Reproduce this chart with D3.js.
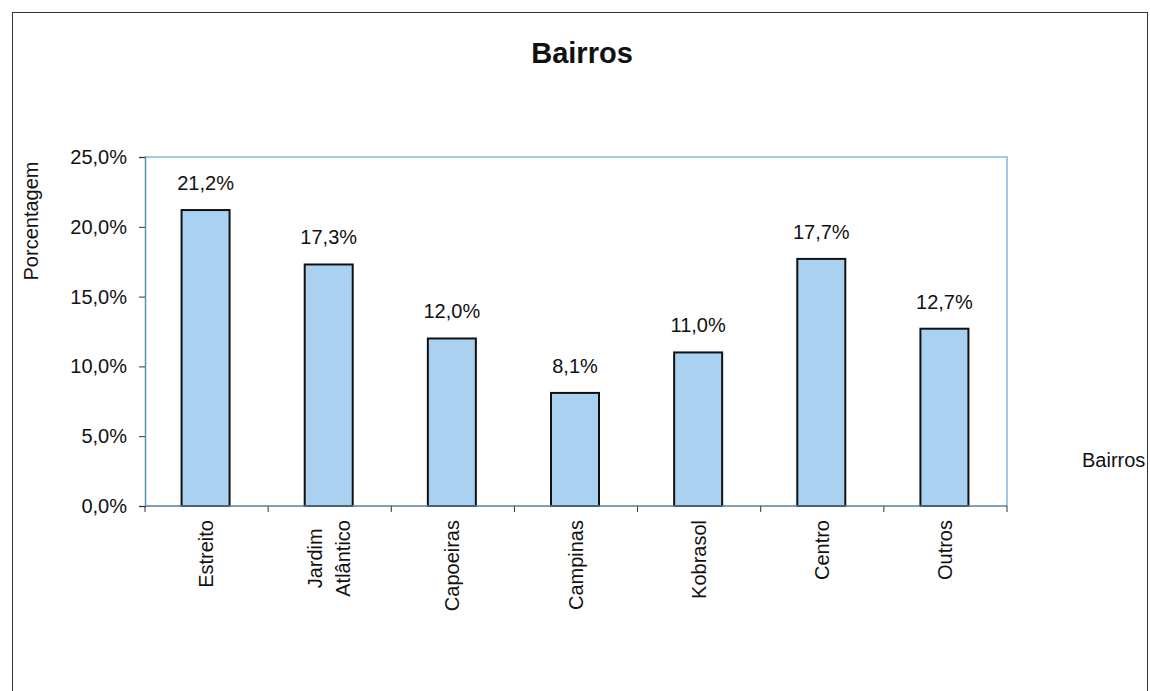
<!DOCTYPE html>
<html>
<head>
<meta charset="utf-8">
<script src="https://cdn.jsdelivr.net/npm/d3@7"></script>
<style>
  html, body { margin: 0; padding: 0; background: #fff; }
  text { font-family: "Liberation Sans", Arial, sans-serif; fill: #111; }
</style>
</head>
<body>
<svg id="chart" width="1150" height="691"></svg>
<script>
// Share of respondents by neighbourhood
const categories = ["Estreito", "Jardim Atlântico", "Capoeiras", "Campinas", "Kobrasol", "Centro", "Outros"];
const values = [21.2, 17.3, 12.0, 8.1, 11.0, 17.7, 12.7];
const yTicks = [0, 5, 10, 15, 20, 25];

const svg = d3.select("#chart");
const plot = { left: 145, right: 1007, top: 157, bottom: 506 };
const FS = 20;

const fmt = v => d3.format(".1f")(v).replace(".", ",") + "%";

// outer frame
svg.append("rect")
  .attr("x", 12.5).attr("y", 12.5)
  .attr("width", 1135).attr("height", 700)
  .attr("fill", "#fff").attr("stroke", "#333").attr("stroke-width", 1);

const x = d3.scaleBand().domain(categories).range([plot.left, plot.right]).paddingInner(0).paddingOuter(0);
const y = d3.scaleLinear().domain([0, 25]).range([plot.bottom, plot.top]);

// plot area frame (top and right)
svg.append("path")
  .attr("d", `M${plot.left},${plot.top}H${plot.right}V${plot.bottom}`)
  .attr("fill", "none").attr("stroke", "#86b8dc").attr("stroke-width", 1.5);

// bars
const barW = 48;
svg.append("g").selectAll("rect").data(values).join("rect")
  .attr("x", (d, i) => x(categories[i]) + x.bandwidth() / 2 - barW / 2 - 1)
  .attr("y", d => y(d))
  .attr("width", barW)
  .attr("height", d => y(0) - y(d))
  .attr("fill", "#abd1f1")
  .attr("stroke", "#111")
  .attr("stroke-width", 2);

// value labels
svg.append("g").selectAll("text").data(values).join("text")
  .attr("x", (d, i) => x(categories[i]) + x.bandwidth() / 2 - 1)
  .attr("y", d => y(d) - 20)
  .attr("text-anchor", "middle")
  .attr("font-size", FS)
  .text(d => fmt(d));

// y axis
const yAxis = svg.append("g")
  .attr("transform", `translate(${plot.left},0)`)
  .call(d3.axisLeft(y).tickValues(yTicks).tickSize(6).tickFormat(fmt));
yAxis.select(".domain").attr("stroke", "#5a8fb8").attr("stroke-width", 1.5);
yAxis.selectAll(".tick line").attr("stroke", "#333");
yAxis.selectAll(".tick text").attr("font-size", FS).attr("x", -18)
  .style("font-family", '"Liberation Sans", Arial, sans-serif').attr("fill", "#111");

// x axis with ticks at band boundaries
const xAxis = svg.append("g").attr("transform", `translate(0,${plot.bottom})`);
xAxis.append("line")
  .attr("x1", plot.left).attr("x2", plot.right)
  .attr("stroke", "#5a7f9a").attr("stroke-width", 1.5);
const bounds = categories.map(c => x(c)).concat([x(categories[categories.length - 1]) + x.bandwidth()]);
xAxis.selectAll("line.tk").data(bounds).join("line")
  .attr("class", "tk")
  .attr("x1", d => d).attr("x2", d => d)
  .attr("y1", 0).attr("y2", 6)
  .attr("stroke", "#333");

// rotated category labels; multi-line labels are centred line by line
const lab = xAxis.selectAll("text.cat").data(categories).join("text")
  .attr("class", "cat")
  .attr("transform", d => `translate(${x(d) + x.bandwidth() / 2},14) rotate(-90)`)
  .attr("text-anchor", "end")
  .attr("font-size", FS);
lab.each(function (d) {
  const parts = d.split(" ");
  const t = d3.select(this);
  const n = parts.length;
  const spans = parts.map((p, i) => t.append("tspan")
    .attr("x", 0)
    .attr("dy", i === 0 ? `${0.33 - (n - 1) * 0.7}em` : "1.4em")
    .text(p));
  if (n > 1) {
    const lens = spans.map(s => s.node().getComputedTextLength());
    const maxL = d3.max(lens);
    spans.forEach((s, i) => s.attr("x", -(maxL - lens[i]) / 2));
  }
});

// title
svg.append("text")
  .attr("x", 582).attr("y", 63)
  .attr("text-anchor", "middle")
  .attr("font-size", 29).attr("font-weight", "bold")
  .text("Bairros");

// y axis title
svg.append("text")
  .attr("transform", `translate(38,221) rotate(-90)`)
  .attr("text-anchor", "middle")
  .attr("font-size", FS)
  .text("Porcentagem");

// x axis title
svg.append("text")
  .attr("x", 1082).attr("y", 467)
  .attr("font-size", FS)
  .text("Bairros");
</script>
</body>
</html>
